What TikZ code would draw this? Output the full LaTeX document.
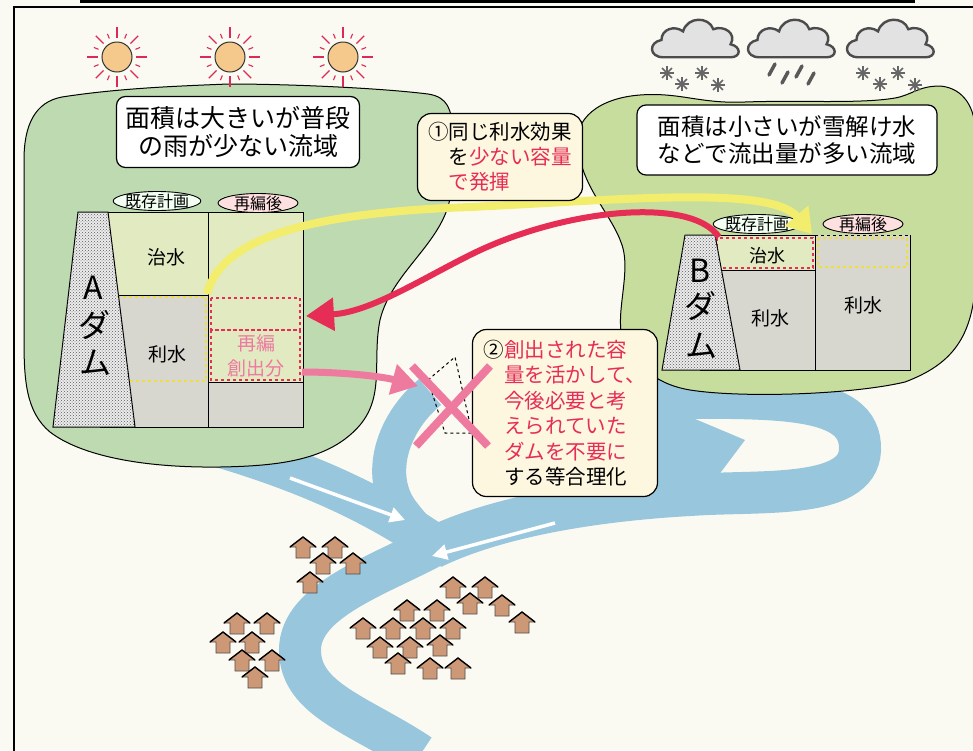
\documentclass[tikz,border=0pt]{standalone}
\usepackage{fontspec}
\setmainfont{Noto Sans CJK JP}
\usetikzlibrary{arrows.meta, shapes.geometric, patterns}

\definecolor{paper}{RGB}{251,250,242}
\definecolor{basinA}{RGB}{190,218,176}
\definecolor{basinB}{RGB}{199,221,158}
\definecolor{river}{RGB}{152,199,221}
\definecolor{cream}{RGB}{253,247,224}
\definecolor{alert}{RGB}{230,45,85}
\definecolor{pinkish}{RGB}{238,122,160}
\definecolor{sunny}{RGB}{245,200,140}
\definecolor{ray}{RGB}{222,40,88}
\definecolor{flood}{RGB}{226,234,194}
\definecolor{store}{RGB}{215,215,207}
\definecolor{lemon}{RGB}{243,237,110}
\definecolor{dotyellow}{RGB}{240,222,60}
\definecolor{roof}{RGB}{205,152,118}
\definecolor{cloudgray}{RGB}{226,226,226}

\tikzset{
    basin/.style={draw=black, line width=1pt},
    textbox/.style={draw, rounded corners=9pt, line width=1.2pt, fill=white, align=center, inner sep=0pt},
    notebox/.style={draw, rounded corners=14pt, line width=1.2pt, fill=cream, align=left, inner sep=0pt},
    tag/.style={ellipse, draw, line width=0.9pt, inner sep=-1pt, font=\fontsize{16}{16}\selectfont},
    damtext/.style={font=\fontsize{32}{32}\selectfont},
    cell/.style={draw, line width=0.7pt},
    redbox/.style={alert, line width=2.5pt, dash pattern=on 3pt off 3pt},
    yellowbox/.style={dotyellow, line width=2.5pt, dash pattern=on 3pt off 3pt},
    stone/.style={draw, line width=1pt, fill=gray!15, postaction={pattern=crosshatch dots, pattern color=gray!70!black}},
    riverband/.style={river, line width=42pt},
    flow/.style={white, line width=3.5pt, -{Triangle[length=15pt,width=15pt]}},
    lemonarrow/.style={lemon, line width=8pt, -{Triangle[length=24pt,width=30pt]}},
    redarrow/.style={alert, line width=6pt, -{Triangle[length=28pt,width=32pt]}},
    pinkarrow/.style={pinkish, line width=7pt, -{Triangle[length=26pt,width=30pt]}},
    % little pictures used more than once
    sun/.pic={
        \foreach \a in {0,45,...,315}
            \draw[ray, line width=1.3pt] (\a:19) -- (\a:30);
        \foreach \a in {22.5,67.5,...,337.5}
            \draw[ray, line width=1.1pt] (\a:20) -- (\a:25);
        \filldraw[fill=sunny, draw=black!80, line width=1pt] (0,0) circle[radius=15pt];
    },
    cloud/.pic={
        \filldraw[fill=cloudgray, draw=black!70, line width=2.4pt]
            (-30,16) .. controls (-44,16) and (-44,2) .. (-32,0)
            .. controls (-32,-10) and (-20,-14) .. (-12,-8)
            .. controls (-8,-22) and (12,-22) .. (16,-10)
            .. controls (26,-14) and (38,-6) .. (32,4)
            .. controls (42,6) and (42,16) .. (32,16) -- cycle;
    },
    flake/.pic={
        \foreach \a in {0,45,90,135}
            \draw[black!60, line width=1.6pt] (\a:7) -- (\a+180:7);
    },
    drop/.pic={
        \draw[black!65, line width=3.5pt, line cap=round] (4,-6) -- (-2,5);
    },
    house/.pic={
        \filldraw[fill=roof, draw=black!70, line width=0.6pt]
            (-13,0) -- (0,-10) -- (13,0) -- (7,0) -- (7,11) -- (-7,11) -- (-7,0) -- cycle;
        \draw[black, line width=1.4pt] (-13,0) -- (0,-10) -- (13,0);
    }
}

\begin{document}
\begin{tikzpicture}[x=1pt, y=-1pt, font=\fontsize{19}{22}\selectfont]

    \useasboundingbox (0,0) rectangle (973,750);
    \clip (0,0) rectangle (973,750);
    \fill[paper] (0,0) rectangle (973,750);

    % frame
    \draw[line width=3.5pt] (80,1) -- (915,1);
    \draw[line width=1.5pt] (14,752) -- (14,7) -- (975,7);

    % river
    \draw[riverband] (215,445) .. controls (300,470) and (370,500) .. (435,545);
    \draw[riverband, line width=34pt] (430,392) .. controls (390,425) and (375,480) .. (405,515)
        .. controls (415,528) and (425,538) .. (435,545);
    \draw[riverband] (640,398) .. controls (770,398) and (862,392) .. (860,450)
        .. controls (858,500) and (760,490) .. (690,495)
        .. controls (600,500) and (500,515) .. (432,548);
    \fill[river] (650,400) -- (745,440) -- (700,500) -- (640,500) -- cycle;
    \draw[riverband] (435,545) .. controls (380,575) and (300,600) .. (300,650)
        .. controls (300,700) and (360,715) .. (420,755);
    \draw[flow] (290,478) -- (405,520);
    \draw[flow] (555,523) -- (432,556);

    % the two catchments
    \filldraw[fill=basinA, basin] (62,97) .. controls (120,88) and (180,86) .. (228,84)
        .. controls (290,84) and (380,88) .. (428,94) .. controls (448,97) and (452,110) .. (452,130)
        -- (451,190) .. controls (448,240) and (392,270) .. (380,320)
        .. controls (372,360) and (385,395) .. (360,425) .. controls (330,460) and (280,466) .. (220,467)
        .. controls (140,468) and (80,455) .. (50,432) .. controls (26,412) and (24,380) .. (24,340)
        -- (24,160) .. controls (24,125) and (35,102) .. (62,97) -- cycle;
    \filldraw[fill=basinB, basin] (578,150) .. controls (572,118) and (600,98) .. (640,95)
        .. controls (680,92) and (700,104) .. (745,102) .. controls (800,100) and (860,104) .. (895,98)
        .. controls (912,95) and (918,86) .. (940,86) .. controls (965,88) and (975,110) .. (975,130)
        -- (975,290) .. controls (970,340) and (950,365) .. (905,382)
        .. controls (850,395) and (740,398) .. (690,390) .. controls (660,385) and (640,370) .. (625,345)
        .. controls (612,320) and (632,275) .. (622,245) .. controls (612,215) and (584,190) .. (578,150) -- cycle;

    % weather
    \foreach \x in {117, 230, 343}
        \pic at (\x,57) {sun};
    \foreach \x in {696, 792, 891}
        \pic[scale=1.08] at (\x,40) {cloud};
    \foreach \x/\y in {667/73, 682/84, 702/73, 718/85, 863/73, 880/84, 898/73, 915/85}
        \pic at (\x,\y) {flake};
    \foreach \x/\y in {771/70, 784/78, 798/72, 810/79}
        \pic at (\x,\y) {drop};

    \node[textbox, font=\fontsize{25}{28}\selectfont, minimum width=243pt, minimum height=71pt]
        (areaA) at (238,132) {面積は大きいが普段\\の雨が少ない流域};
    \node[textbox, font=\fontsize{23.5}{27}\selectfont, minimum width=300pt, minimum height=70pt]
        (areaB) at (787,140) {面積は小さいが雪解け水\\などで流出量が多い流域};

    % dam A and its storage
    \fill[flood] (100,212) rectangle (303,295);
    \fill[store] (100,295) rectangle (208,427);
    \fill[flood] (208,295) rectangle (303,382);
    \fill[store] (208,382) rectangle (303,427);
    \draw[cell] (100,212) rectangle (303,427);
    \draw[cell] (208,212) -- (208,427);
    \draw[cell] (100,295) -- (208,295);
    \draw[cell] (208,382) -- (303,382);
    \draw[yellowbox] (118,297) rectangle (206,381);
    \draw[redbox] (211,298) rectangle (300,330);
    \draw[redbox] (211,330) rectangle (300,380);
    \node (floodA) at (166,257) {治水};
    \node (waterA) at (167,354) {利水};
    \node[pinkish, align=center, font=\fontsize{19}{25}\selectfont] (gainA) at (256,356) {再編\\創出分};
    \node[tag, fill=green!5, minimum width=80pt, minimum height=19pt] (tagAold) at (157,201) {既存計画};
    \node[tag, fill=red!12, minimum width=80pt, minimum height=19pt] (tagAnew) at (258,203) {再編後};
    \draw[stone] (53,427) -- (78,212) -- (108,212) -- (135,427) -- cycle;
    \node[damtext] (A1) at (93,288) {A};
    \node[damtext] (A2) at (94,325) {ダ};
    \node[damtext] (A3) at (95,363) {ム};

    % dam B and its storage
    \fill[store] (700,235) rectangle (910,370);
    \fill[flood] (700,235) rectangle (815,270);
    \draw[cell] (815,235) -- (700,235) -- (700,370) -- (910,370) -- (910,235);
    \draw[cell, dashed] (815,235) -- (910,235);
    \draw[cell] (815,235) -- (815,370);
    \draw[cell] (700,270) -- (815,270);
    \draw[redbox] (717,238) rectangle (813,268);
    \draw[yellowbox] (818,238) rectangle (907,267);
    \node[font=\fontsize{18}{20}\selectfont] (floodB) at (767,256) {治水};
    \node (waterB) at (770,318) {利水};
    \node (waterBnew) at (863,305) {利水};
    \node[tag, fill=green!5, minimum width=79pt, minimum height=19pt] (tagBold) at (757,224) {既存計画};
    \node[tag, fill=red!12, minimum width=80pt, minimum height=19pt] (tagBnew) at (863,224) {再編後};
    \draw[stone] (662,370) -- (685,235) -- (715,235) -- (740,370) -- cycle;
    \node[damtext] (B1) at (700,271) {B};
    \node[damtext] (B2) at (700,306) {ダ};
    \node[damtext] (B3) at (701,346) {ム};

    % arrows between the dams
    \coordinate (yStart) at (207,294);
    \coordinate (yEnd) at (812,234);
    \coordinate (rStart) at (719,237);
    \coordinate (rEnd) at (306,316);
    \coordinate (pStart) at (302,372);
    \coordinate (pEnd) at (418,386);
    \draw[lemonarrow] (yStart) .. controls (222,232) and (330,212) .. (470,207)
        .. controls (620,200) and (770,185) .. (yEnd);
    \draw[redarrow] (rStart) .. controls (690,195) and (560,210) .. (470,255)
        .. controls (420,280) and (370,312) .. (rEnd);
    \draw[pinkarrow] (pStart) .. controls (340,372) and (380,376) .. (pEnd);

    % town along the river
    \foreach \x/\y in {303/547, 335/547, 323/563, 353/563, 310/582,
                       237/623, 267/623, 223/642, 252/642, 242/660, 272/660, 255/677,
                       453/587, 485/587, 470/603, 502/605, 522/622, 407/610, 437/610,
                       363/628, 393/628, 423/628, 453/628, 380/647, 410/647, 440/645,
                       398/663, 430/668, 458/668}
        \pic at (\x,\y) {house};

    % dam no longer needed
    \draw[dashed, line width=1pt] (428,380) -- (455,357) -- (472,433) -- (445,433) -- cycle;

    \node[notebox, font=\fontsize{20.5}{25}\selectfont, minimum width=165pt, minimum height=87pt]
        (noteOne) at (500,157)
        {①同じ利水効果\\\hphantom{①}を\textcolor{alert}{少ない容量}\\\hphantom{①}\textcolor{alert}{で発揮}};
    \node[notebox, font=\fontsize{20.5}{25.5}\selectfont, minimum width=185pt, minimum height=167pt]
        (noteTwo) at (565,413)
        {②\textcolor{alert}{創出された容}\\
         \hphantom{②}\textcolor{alert}{量を活かして、}\\
         \hphantom{②}\textcolor{alert}{今後必要と考}\\
         \hphantom{②}\textcolor{alert}{えられていた}\\
         \hphantom{②}\textcolor{alert}{ダムを不要に}\\
         \hphantom{②}する等合理化};

    \draw[pinkish, line width=8pt] (412,366) -- (488,446);
    \draw[pinkish, line width=8pt] (490,366) -- (416,446);

\end{tikzpicture}
\end{document}
